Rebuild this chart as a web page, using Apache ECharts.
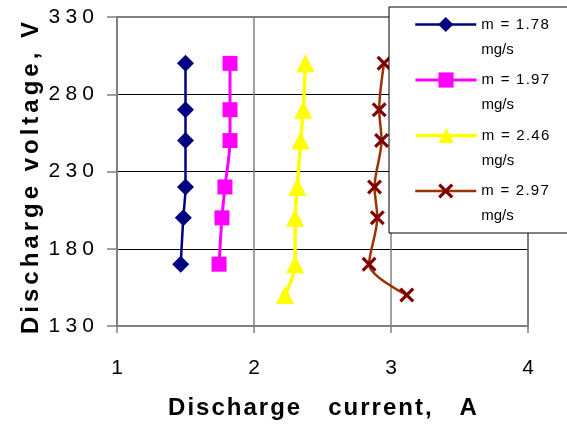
<!DOCTYPE html>
<html>
<head>
<meta charset="utf-8">
<script src="https://cdn.jsdelivr.net/npm/echarts@6/dist/echarts.min.js"></script>
<style>
  html, body { margin: 0; padding: 0; background: #fff; }
  #chart { width: 567px; height: 424px; }
</style>
</head>
<body>
<div id="chart"></div>
<script>
// ---- data ----
const seriesNames = ['m = 1.78', 'm = 1.97', 'm = 2.46', 'm = 2.97'];
const unitText = 'mg/s';
const voltsShort = [300, 270, 250, 220, 200, 170];
const voltsLong = [300, 270, 250, 220, 200, 170, 150];
const current178 = [1.50, 1.50, 1.50, 1.50, 1.484, 1.465];
const current197 = [1.825, 1.825, 1.825, 1.788, 1.766, 1.745];
const current246 = [2.375, 2.36, 2.34, 2.316, 2.30, 2.30, 2.226];
const current297 = [2.949, 2.914, 2.931, 2.88, 2.90, 2.84, 3.115];
const xTicks = [1, 2, 3, 4];
const yTicks = [130, 180, 230, 280, 330];
const xTitle = 'Discharge   current,   A';
const yTitle = 'Discharge voltage, V';

// ---- helpers ----
const spaced = (s, ch) => Array.from(String(s)).join(ch);
const pairs = (xs, ys) => xs.map((x, i) => [x, ys[i]]);
const FONT = '"Liberation Sans", Arial, sans-serif';
const xSymbol = 'path://M0,1.5 L1.5,0 L5,3.5 L8.5,0 L10,1.5 L6.5,5 L10,8.5 L8.5,10 L5,6.5 L1.5,10 L0,8.5 L3.5,5 Z';

const styles = [
  { line: '#000080', mark: '#000080', symbol: 'diamond', size: 17, width: 2.5 },
  { line: '#FF00FF', mark: '#FF00FF', symbol: 'rect', size: 15, width: 3 },
  { line: '#FFFF00', mark: '#FFFF00', symbol: 'triangle', size: 18, width: 3.5 },
  { line: '#993300', mark: '#800000', symbol: xSymbol, size: 15, width: 2.5 }
];
const seriesData = [
  pairs(current178, voltsShort),
  pairs(current197, voltsShort),
  pairs(current246, voltsLong),
  pairs(current297, voltsLong)
];

const series = seriesNames.map((name, i) => ({
  name: name,
  type: 'line',
  data: seriesData[i],
  smooth: 0.3,
  symbol: styles[i].symbol,
  symbolSize: styles[i].size,
  showSymbol: true,
  showAllSymbol: true,
  z: 3,
  lineStyle: { color: styles[i].line, width: styles[i].width },
  itemStyle: { color: styles[i].mark, borderColor: styles[i].mark, borderWidth: 0 },
  emphasis: { disabled: true },
  animation: false
}));

const legendCenters = [24, 79.5, 135, 190.5];
const legends = seriesNames.map((name, i) => ({
  data: [name],
  orient: 'vertical',
  left: 414,
  top: legendCenters[i] - 37,
  padding: 0,
  itemWidth: 61,
  itemHeight: 19,
  selectedMode: false,
  z: 20,
  lineStyle: { width: styles[i].width, color: styles[i].line },
  formatter: n => ' \n' + spaced(n, '\u200A') + '\n' + unitText,
  textStyle: {
    fontFamily: FONT, fontSize: 15, color: '#000',
    lineHeight: 25
  }
}));

const chart = echarts.init(document.getElementById('chart'), null, { renderer: 'canvas' });
chart.setOption({
  animation: false,
  backgroundColor: '#fff',
  grid: {
    left: 117, top: 17, right: 39, bottom: 98,
    containLabel: false, outerBoundsMode: 'none',
    show: true, borderColor: '#808080', borderWidth: 2, backgroundColor: 'transparent'
  },
  xAxis: {
    type: 'value',
    min: xTicks[0], max: xTicks[xTicks.length - 1], interval: 1,
    name: spaced(xTitle, '\u200A'),
    nameLocation: 'middle',
    nameGap: 70,
    nameMoveOverlap: false,
    nameTextStyle: { fontFamily: FONT, fontSize: 24, fontWeight: 'bold', color: '#000' },
    axisLine: { show: true, onZero: false, lineStyle: { color: '#808080', width: 2 } },
    axisTick: { show: true, inside: false, length: 7, lineStyle: { color: '#808080', width: 1.5 } },
    axisLabel: {
      margin: 32, fontFamily: FONT, fontSize: 21, color: '#000',
      formatter: v => spaced(v, '\u2005')
    },
    splitLine: { show: true, lineStyle: { color: '#808080', width: 1.5 } }
  },
  yAxis: {
    type: 'value',
    min: yTicks[0], max: yTicks[yTicks.length - 1], interval: 50,
    name: spaced(yTitle, '\u2006'),
    nameLocation: 'middle',
    nameGap: 74,
    nameRotate: 90,
    nameMoveOverlap: false,
    nameTextStyle: {
      fontFamily: FONT, fontSize: 24, fontWeight: 'bold', color: '#000',
      padding: [0, 13, 0, 0]
    },
    axisLine: { show: true, onZero: false, lineStyle: { color: '#808080', width: 2 } },
    axisTick: { show: true, inside: false, length: 10, lineStyle: { color: '#808080', width: 1.5 } },
    axisLabel: {
      margin: 23, fontFamily: FONT, fontSize: 21, color: '#000',
      formatter: v => spaced(v, '\u2005')
    },
    splitLine: {
      show: true,
      lineStyle: { color: ['#808080', '#000', '#000', '#000', '#808080'], width: 1 }
    }
  },
  legend: legends,
  graphic: [{
    type: 'rect',
    z: 10,
    silent: true,
    shape: { x: 389, y: 7, width: 190, height: 226 },
    style: { fill: '#fff', stroke: '#000', lineWidth: 1 }
  }],
  series: series
});
</script>
</body>
</html>
